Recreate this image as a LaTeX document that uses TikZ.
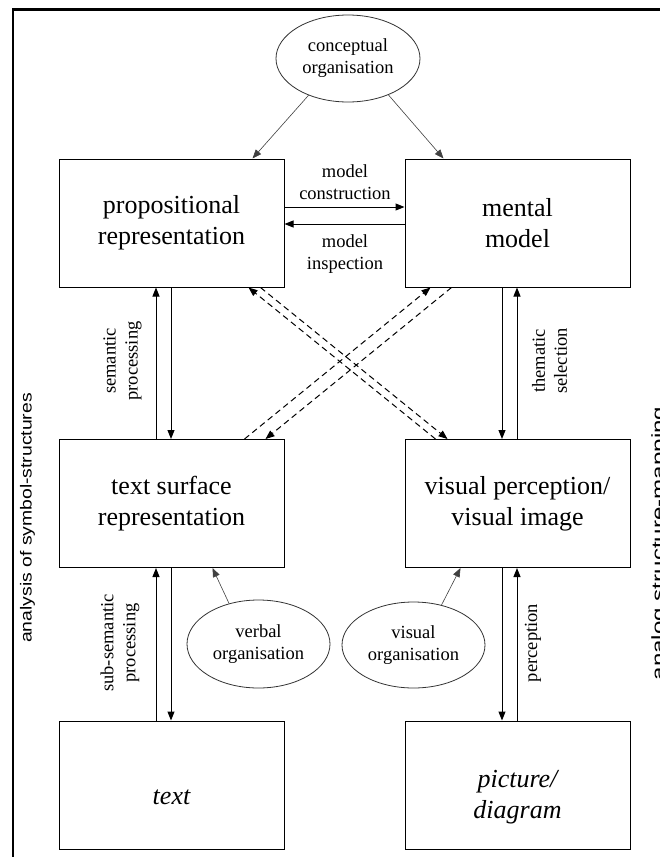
\documentclass[tikz,border=0pt]{standalone}
\usepackage{fontspec}
\setmainfont{Liberation Serif}
\setsansfont{Liberation Sans}
\usetikzlibrary{arrows.meta,shapes.geometric}

\begin{document}
\begin{tikzpicture}[x=1pt, y=-1pt,
        box/.style={draw, line width=1pt, minimum width=225pt, minimum height=128pt,
            align=center, font=\fontsize{26}{31}\selectfont},
        orga/.style={draw=black!80, line width=0.8pt, ellipse, inner sep=0pt,
            minimum width=143pt, minimum height=87pt, align=center,
            font=\fontsize{18.5}{22}\selectfont},
        lbl/.style={align=center, inner sep=0pt, font=\fontsize{18.5}{22}\selectfont},
        side/.style={rotate=90, inner sep=0pt},
        arr/.style={line width=1pt, -{Triangle[length=9pt,width=7pt]}},
        darr/.style={arr, dash pattern=on 6pt off 4pt},
        oarr/.style={draw=black!75, line width=0.6pt, -{Triangle[length=9pt,width=7pt]}}]
        \useasboundingbox (0,0) rectangle (660,857);

        % Frame
        \draw[line width=2.4pt] (12.8,857) -- (12.8,9.5) -- (660,9.5);

        % Boxes
        \node[box] (prop) at (171.5,223) {propositional\\representation};
        \node[box] (mental) at (517.5,223) {mental\\model};
        \node[box] (tsr) at (171.5,503.5) {text surface\\representation};
        \node[box] (vis) at (517.5,503.5) {visual perception/\\visual image};
        \node[box, font=\fontsize{26}{31}\selectfont\itshape] (txt) at (171.5,785)
            {\raisebox{-12pt}[\height][\depth]{text}};
        \node[box, font=\fontsize{26}{31}\selectfont\itshape] (pic) at (517.5,785)
            {\raisebox{-12pt}[\height][\depth]{\begin{tabular}{@{}c@{}}picture/\\diagram\end{tabular}}};

        % Organisation
        \node[orga, minimum width=144pt] (concept) at (348,58.5) {conceptual\\organisation};
        \node[orga, minimum height=88pt] (verbal) at (258.5,644) {verbal\\organisation};
        \node[orga, minimum height=86pt] (visorg) at (413.5,645) {visual\\organisation};

        \draw[oarr] (concept.-137) -- ([xshift=81pt]prop.north);
        \draw[oarr] (concept.-42) -- ([xshift=-74pt]mental.north);
        \draw[oarr] (verbal.126) -- ([xshift=41pt]tsr.south);
        \draw[oarr] (visorg.55) -- ([xshift=-57pt]vis.south);

        % Model construction / inspection
        \draw[arr] ([yshift=16pt]prop.east) -- ([yshift=16pt]mental.west);
        \draw[arr] ([yshift=-1pt]mental.west) -- ([yshift=-1pt]prop.east);
        \node[lbl] (mcons) at (345,182) {model\\construction};
        \node[lbl] (minsp) at (345,254) {model\\inspection};

        % Vertical arrows
        \draw[arr] (156,0 |- tsr.north) -- (156,0 |- prop.south);
        \draw[arr] (171,0 |- prop.south) -- (171,0 |- tsr.north);
        \draw[arr] (156,0 |- txt.north) -- (156,0 |- tsr.south);
        \draw[arr] (171,0 |- tsr.south) -- (171,0 |- txt.north);
        \draw[arr] (502,0 |- mental.south) -- (502,0 |- vis.north);
        \draw[arr] (517,0 |- vis.north) -- (517,0 |- mental.south);
        \draw[arr] (502,0 |- vis.south) -- (502,0 |- pic.north);
        \draw[arr] (517,0 |- pic.north) -- (517,0 |- vis.south);

        \node[lbl, rotate=90] (sem) at (122.5,361) {semantic\\processing};
        \node[lbl, rotate=90] (them) at (549.5,361) {thematic\\selection};
        \node[lbl, rotate=90] (subsem) at (120,643) {sub-semantic\\processing};
        \node[lbl, rotate=90] (perc) at (533,643) {perception};

        % Crossing dashed arrows
        \draw[darr] ([xshift=-24pt]prop.south east) -- ([xshift=43pt]vis.north west);
        \draw[darr] ([xshift=31pt]vis.north west) -- ([xshift=-36pt]prop.south east);
        \draw[darr] ([xshift=-40pt]tsr.north east) -- ([xshift=26pt]mental.south west);
        \draw[darr] ([xshift=47pt]mental.south west) -- ([xshift=-19pt]tsr.north east);

        % Side labels
        \node[side, font=\sffamily\fontsize{16}{19}\selectfont] (asym) at (27.5,518)
            {\scalebox{1.21}[1]{analysis of symbol-structures}};
        \node[side, anchor=north, font=\sffamily\fontsize{18}{21}\selectfont] (astr) at (651,543.5)
            {\scalebox{1.34}[1]{analog structure-mapping}};
\end{tikzpicture}
\end{document}
